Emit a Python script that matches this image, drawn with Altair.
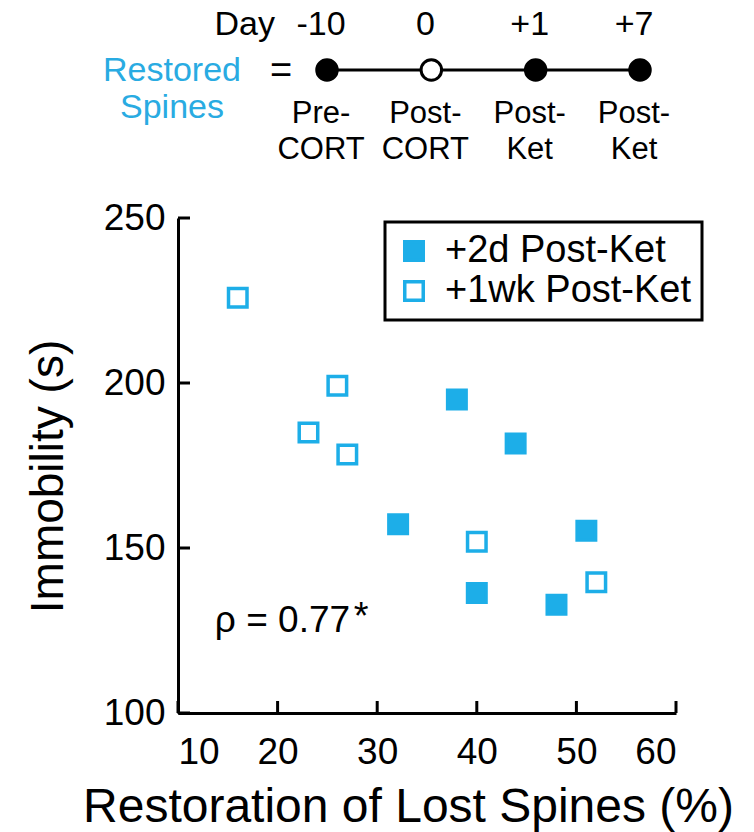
import altair as alt
import pandas as pd

FONT = "Liberation Sans"
BLUE = "#1DAEE8"

# ---- data ----
group_2d = "+2d Post-Ket"
group_1wk = "+1wk Post-Ket"
x_2d = [38.0, 43.9, 32.1, 51.0, 40.0, 48.0]
y_2d = [195.0, 181.7, 157.2, 155.2, 136.4, 132.8]
x_1wk = [16.0, 26.0, 23.1, 27.0, 40.0, 52.0]
y_1wk = [225.8, 199.2, 185.0, 178.3, 151.9, 139.6]
x_ticks = [10, 20, 30, 40, 50, 60]
y_ticks = [100, 150, 200, 250]
stage_idx = [0, 1, 2, 3]
day_labels = ["-10", "0", "+1", "+7"]
stage_names = ["Pre-\nCORT", "Post-\nCORT", "Post-\nKet", "Post-\nKet"]
stage_restored = [True, False, True, True]
rho_text = "ρ = 0.77"
rho_x, rho_y = 13.7, 124.6
star_x, star_y = 28.4, 125.5

W, H = 498, 495

pts = pd.DataFrame({
    "x": x_2d + x_1wk,
    "y": y_2d + y_1wk,
    "group": [group_2d] * len(x_2d) + [group_1wk] * len(x_1wk),
})

xs = alt.Scale(domain=[10, 60], nice=False, zero=False)
ys = alt.Scale(domain=[100, 250], nice=False, zero=False)

x_axis = alt.Axis(values=x_ticks, title="Restoration of Lost Spines (%)",
                  titleX=230, titleY=108, titleBaseline="alphabetic", titleAlign="center",
                  titleFontSize=48, labelPadding=21)
y_axis = alt.Axis(values=y_ticks, title="Immobility (s)",
                  titleX=-116, titleY=258, titleBaseline="alphabetic", titleAlign="center",
                  labelPadding=13)

points = alt.Chart(pts).mark_point(
    shape="square", filled=True, size=342, stroke=BLUE, strokeWidth=3.5, opacity=1
).encode(
    x=alt.X("x:Q", scale=xs, axis=x_axis),
    y=alt.Y("y:Q", scale=ys, axis=y_axis),
    fill=alt.Fill("group:N",
                  scale=alt.Scale(domain=[group_2d, group_1wk], range=[BLUE, "white"]),
                  legend=alt.Legend(title=None, orient="none", legendX=207, legendY=4,
                                    symbolType="square", symbolSize=342,
                                    symbolStrokeWidth=3.5, symbolStrokeColor=BLUE,
                                    symbolOpacity=1,
                                    labelFontSize=38, labelFont=FONT, labelColor="black",
                                    labelLimit=0, labelOffset=12, padding=10, rowPadding=2,
                                    strokeColor="black")),
)

yticks = alt.Chart(pd.DataFrame({"v": y_ticks})).mark_rule(color="black", strokeWidth=3).encode(
    y=alt.Y("v:Q", scale=ys, axis=y_axis), x=alt.value(0), x2=alt.value(12))
xticks = alt.Chart(pd.DataFrame({"v": x_ticks})).mark_rule(color="black", strokeWidth=3).encode(
    x=alt.X("v:Q", scale=xs, axis=x_axis), y=alt.value(H), y2=alt.value(H - 12))

rho = alt.Chart(pd.DataFrame({"t": [rho_text]})).mark_text(
    align="left", baseline="alphabetic", fontSize=37, font=FONT, color="black"
).encode(x=alt.X(datum=rho_x, scale=xs, axis=x_axis),
         y=alt.Y(datum=rho_y, scale=ys, axis=y_axis), text="t:N")
star = alt.Chart(pd.DataFrame({"t": ["*"]})).mark_text(
    align="center", baseline="alphabetic", fontSize=38, font=FONT, color="black"
).encode(x=alt.X(datum=star_x, scale=xs, axis=x_axis),
         y=alt.Y(datum=star_y, scale=ys, axis=y_axis), text="t:N")

scatter = alt.layer(points, yticks, xticks, rho, star)

# ---- schematic ----
stage_df = pd.DataFrame({"stage": stage_idx, "day": day_labels, "name": stage_names,
                         "restored": stage_restored})
ss = alt.Scale(domain=[0, 3], range=[149, 462])
base = alt.Chart(stage_df).encode(x=alt.X("stage:Q", scale=ss, axis=None))
CY = -148
sline = base.mark_line(color="black", strokeWidth=3).encode(y=alt.value(CY))
circ_f = base.transform_filter("datum.restored").mark_point(
    shape="circle", size=420, filled=True, fill="black", stroke="black", strokeWidth=3, opacity=1
).encode(y=alt.value(CY))
circ_o = base.transform_filter("!datum.restored").mark_point(
    shape="circle", size=420, filled=True, fill="white", stroke="black", strokeWidth=3, opacity=1
).encode(y=alt.value(CY))
days = base.mark_text(fontSize=34, font=FONT, baseline="alphabetic", dx=-6, color="black").encode(
    y=alt.value(-183), text="day:N")
names = base.mark_text(fontSize=31, font=FONT, baseline="alphabetic", lineBreak="\n",
                       lineHeight=36, dx=-6, color="black").encode(
    y=alt.value(-95), text="name:N")
one = pd.DataFrame({"a": [0]})
day_word = alt.Chart(one).mark_text(text="Day", fontSize=34, font=FONT, align="right",
                                    baseline="alphabetic", color="black").encode(
    x=alt.value(97), y=alt.value(-183))
eq = alt.Chart(one).mark_text(text="=", fontSize=38, font=FONT, align="center",
                              baseline="alphabetic", color="black").encode(
    x=alt.value(103), y=alt.value(-135))
restored = alt.Chart(one).mark_text(text=["Restored", "Spines"], fontSize=34, font=FONT,
                                    align="center", baseline="alphabetic", lineHeight=37,
                                    color="#29ABE2").encode(
    x=alt.value(-6), y=alt.value(-137))

schem = alt.layer(sline, circ_f, circ_o, days, names, day_word, eq, restored)

chart = alt.layer(scatter, schem).resolve_scale(x="independent").properties(
    width=W, height=H,
    autosize=alt.AutoSizeParams(type="none"),
    padding={"left": 178, "top": 218, "right": 78, "bottom": 119},
).configure_view(stroke=None).configure_axis(
    domainColor="black", domainWidth=3, ticks=False, grid=False,
    labelFont=FONT, labelFontSize=37, labelColor="black",
    titleFont=FONT, titleFontSize=46, titleColor="black", titleFontWeight="normal",
).configure_legend(strokeWidth=3)

chart.save("out.html", embed_options={"renderer": "svg", "actions": False})
